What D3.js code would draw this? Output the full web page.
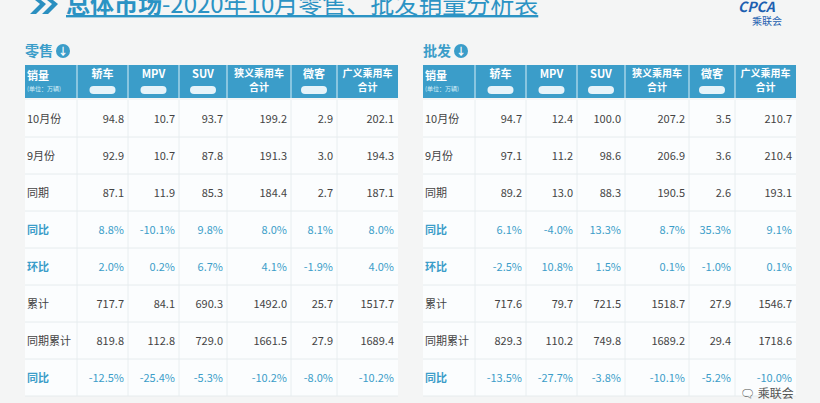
<!DOCTYPE html>
<html><head><meta charset="utf-8">
<script src="https://cdn.jsdelivr.net/npm/d3@7"></script>
<style>body{margin:0;background:#f4f5f5;font-family:"Noto Sans CJK SC","Noto Sans",sans-serif}</style>
</head><body><svg id="c" width="820" height="403"></svg>
<script>
const columns = ["轿车", "MPV", "SUV", "狭义乘用车\n合计", "微客", "广义乘用车\n合计"];
const rowLabels = ["10月份", "9月份", "同期", "同比", "环比", "累计", "同期累计", "同比 "];
const pctRows = ["同比", "环比", "同比 "];
const retail = [
  ["94.8","10.7","93.7","199.2","2.9","202.1"],
  ["92.9","10.7","87.8","191.3","3.0","194.3"],
  ["87.1","11.9","85.3","184.4","2.7","187.1"],
  ["8.8%","-10.1%","9.8%","8.0%","8.1%","8.0%"],
  ["2.0%","0.2%","6.7%","4.1%","-1.9%","4.0%"],
  ["717.7","84.1","690.3","1492.0","25.7","1517.7"],
  ["819.8","112.8","729.0","1661.5","27.9","1689.4"],
  ["-12.5%","-25.4%","-5.3%","-10.2%","-8.0%","-10.2%"]
];
const wholesale = [
  ["94.7","12.4","100.0","207.2","3.5","210.7"],
  ["97.1","11.2","98.6","206.9","3.6","210.4"],
  ["89.2","13.0","88.3","190.5","2.6","193.1"],
  ["6.1%","-4.0%","13.3%","8.7%","35.3%","9.1%"],
  ["-2.5%","10.8%","1.5%","0.1%","-1.0%","0.1%"],
  ["717.6","79.7","721.5","1518.7","27.9","1546.7"],
  ["829.3","110.2","749.8","1689.2","29.4","1718.6"],
  ["-13.5%","-27.7%","-3.8%","-10.1%","-5.2%","-10.0%"]
];
const colEdges = [0, 52, 103, 154, 202, 266, 312, 373]; // relative to table left

const svg = d3.select("#c");
const blue = "#3b9dc9";
// title
svg.append("path").attr("d", "M30,-4 L40,4 L30,14 L36,14 L46,4 L36,-4 Z M42,-4 L52,4 L42,14 L48,14 L58,4 L48,-4 Z")
  .attr("fill", "#2a8fc0");
svg.append("text").attr("x", 66).attr("y", 13).attr("fill", "#2b93c4")
  .attr("font-size", 24).attr("text-decoration", "underline")
  .html('<tspan font-weight="bold">总体市场</tspan>-2020年10月零售、批发销量分析表');
// logo
svg.append("text").attr("x", 738).attr("y", 12).attr("fill", "#1d5fb0").attr("font-size", 14)
  .attr("font-weight", "bold").attr("font-style", "italic").text("CPCA");
svg.append("text").attr("x", 752).attr("y", 25).attr("fill", "#1d5fb0").attr("font-size", 10).text("乘联会");

const y = d3.scaleBand().domain(rowLabels).range([100, 396]);

function table(x0, name, data) {
  const g = svg.append("g").attr("transform", `translate(${x0},0)`);
  g.append("text").attr("x", 0).attr("y", 56).attr("fill", blue).attr("font-size", 14)
    .attr("font-weight", "bold").text(name);
  g.append("circle").attr("cx", 38).attr("cy", 51).attr("r", 7).attr("fill", blue);
  g.append("text").attr("x", 38).attr("y", 55).attr("fill", "#fff").attr("font-size", 10)
    .attr("text-anchor", "middle").attr("font-weight", "bold").text("↓");
  g.append("rect").attr("x", 0).attr("y", y.range()[0]).attr("width", 373)
    .attr("height", y.range()[1] - y.range()[0]).attr("fill", "#fbfdfe");
  g.append("rect").attr("x", 0).attr("y", 65).attr("width", 373).attr("height", 33).attr("fill", blue);
  colEdges.slice(1, -1).forEach(e => {
    g.append("line").attr("x1", e).attr("x2", e).attr("y1", 65).attr("y2", 98).attr("stroke", "#d8eef7");
    g.append("line").attr("x1", e).attr("x2", e).attr("y1", 100).attr("y2", 396).attr("stroke", "#e8eef0");
  });
  rowLabels.forEach(r => g.append("line").attr("x1", 0).attr("x2", 373)
    .attr("y1", y(r) + y.bandwidth()).attr("y2", y(r) + y.bandwidth()).attr("stroke", "#e6ecee"));
  g.append("text").attr("x", 2).attr("y", 80).attr("fill", "#fff").attr("font-size", 11)
    .attr("font-weight", "bold").text("销量");
  g.append("text").attr("x", 2).attr("y", 91).attr("fill", "#d6eef8").attr("font-size", 6).text("(单位：万辆)");
  columns.forEach((c, i) => {
    const cx = (colEdges[i + 1] + colEdges[i + 2]) / 2;
    const lines = c.split("\n");
    lines.forEach((l, k) => g.append("text").attr("x", cx).attr("y", (lines.length > 1 ? 77 : 78) + k * 14)
      .attr("text-anchor", "middle").attr("fill", "#fff").attr("font-size", lines.length > 1 ? 10 : 11)
      .attr("font-weight", "bold").text(l));
    if (lines.length === 1) {
      g.append("rect").attr("x", cx - 13).attr("y", 86).attr("width", 26).attr("height", 8)
        .attr("rx", 4).attr("fill", "#e6f3f9");
    }
  });
  rowLabels.forEach((r, ri) => {
    const pct = pctRows.includes(r);
    const cy = y(r) + y.bandwidth() / 2 + 4;
    g.append("text").attr("x", 2).attr("y", cy).attr("font-size", 11)
      .attr("fill", pct ? blue : "#444").attr("font-weight", pct ? "bold" : null).text(r.trim());
    data[ri].forEach((v, ci) => g.append("text").attr("x", colEdges[ci + 2] - 4).attr("y", cy)
      .attr("text-anchor", "end").attr("font-size", 11).attr("fill", pct ? blue : "#444")
      .text(v));
  });
}
table(25, "零售", retail);
table(423, "批发", wholesale);
svg.append("text").attr("x", 740).attr("y", 398).attr("font-size", 12).attr("fill", "#555").text("🗨 乘联会");
</script></body></html>
